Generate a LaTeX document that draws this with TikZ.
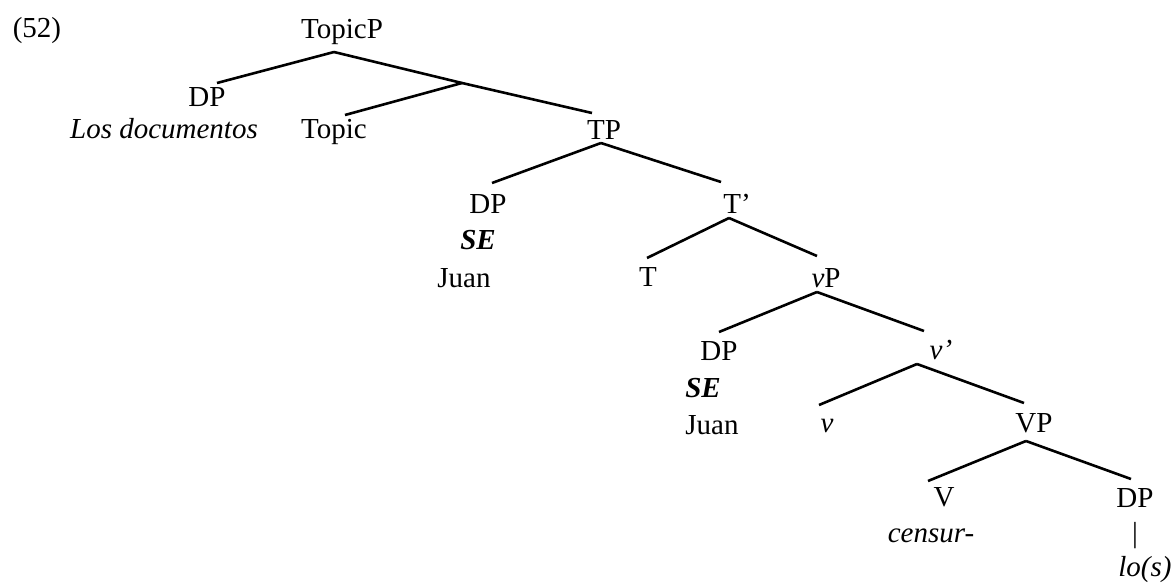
\documentclass[tikz,border=0pt]{standalone}
\usepackage{fontspec}
\setmainfont{Liberation Serif}
\usetikzlibrary{positioning}
\tikzset{x=0.5pt, y=-0.5pt, % one unit is one pixel of the layout, y runs down
cat/.style={ % Sets the look of every label of the tree
inner sep=0pt, anchor=base,
font=\fontsize{14.5pt}{17pt}\selectfont},
branch/.style={ % Sets the look of every branch
draw, line width=1.3pt}}

\begin{document}
\begin{tikzpicture}

    \useasboundingbox (0,0) rectangle (1174,584);

    \node[cat] (ex) at (37,37) {(52)};

    \node[cat] (topicp) at (342,38) {TopicP};
    \node[cat] (dpa) at (207,106) {DP};
    \node[cat] (losdoc) at (164,138) {\textit{Los documentos}};
    \coordinate (topicbar) at (462,83);
    \node[cat] (topic) at (334,138) {Topic};
    \node[cat] (tp) at (604,139) {TP};

    \node[cat] (dpb) at (488,213) {DP};
    \node[cat] (seb) at (478,249) {\textbf{\textit{SE}}};
    \node[cat] (juanb) at (464,287) {Juan};
    \node[cat] (tbar) at (737,213) {T’};
    \node[cat] (t) at (648,286) {T};
    \node[cat] (vp) at (826,287) {\textit{v}P};

    \node[cat] (dpc) at (719,360) {DP};
    \node[cat] (sec) at (703,397) {\textbf{\textit{SE}}};
    \node[cat] (juanc) at (712,434) {Juan};
    \node[cat] (vbar) at (941,359) {\textit{v’}};
    \node[cat] (v) at (827,432) {\textit{v}};
    \node[cat] (vpp) at (1034,432) {VP};

    \node[cat] (verb) at (944,506) {V};
    \node[cat] (censur) at (931,542) {\textit{censur-}};
    \node[cat] (dpd) at (1135,507) {DP};
    \node[cat, anchor=center] (stem) at (1135,536) {|};
    \node[cat] (lo) at (1145,576) {\textit{lo(s)}};

    \draw[branch] ([shift={(-8,14)}]topicp.base) -- ([shift={(10,-23)}]dpa.base);
    \draw[branch] ([shift={(-8,14)}]topicp.base) -- (topicbar);
    \draw[branch] (topicbar) -- ([shift={(11,-23)}]topic.base);
    \draw[branch] (topicbar) -- ([shift={(-12,-26)}]tp.base);

    \draw[branch] ([shift={(-3,4)}]tp.base) -- ([shift={(4,-30)}]dpb.base);
    \draw[branch] ([shift={(-3,4)}]tp.base) -- ([shift={(-16,-31)}]tbar.base);
    \draw[branch] ([shift={(-8,5)}]tbar.base) -- ([shift={(-1,-28)}]t.base);
    \draw[branch] ([shift={(-8,5)}]tbar.base) -- ([shift={(-9,-31)}]vp.base);

    \draw[branch] ([shift={(-9,5)}]vp.base) -- ([shift={(0,-28)}]dpc.base);
    \draw[branch] ([shift={(-9,5)}]vp.base) -- ([shift={(-17,-28)}]vbar.base);
    \draw[branch] ([shift={(-24,5)}]vbar.base) -- ([shift={(-8,-27)}]v.base);
    \draw[branch] ([shift={(-24,5)}]vbar.base) -- ([shift={(-10,-29)}]vpp.base);

    \draw[branch] ([shift={(-8,9)}]vpp.base) -- ([shift={(-16,-25)}]verb.base);
    \draw[branch] ([shift={(-8,9)}]vpp.base) -- ([shift={(-4,-28)}]dpd.base);

\end{tikzpicture}
\end{document}
